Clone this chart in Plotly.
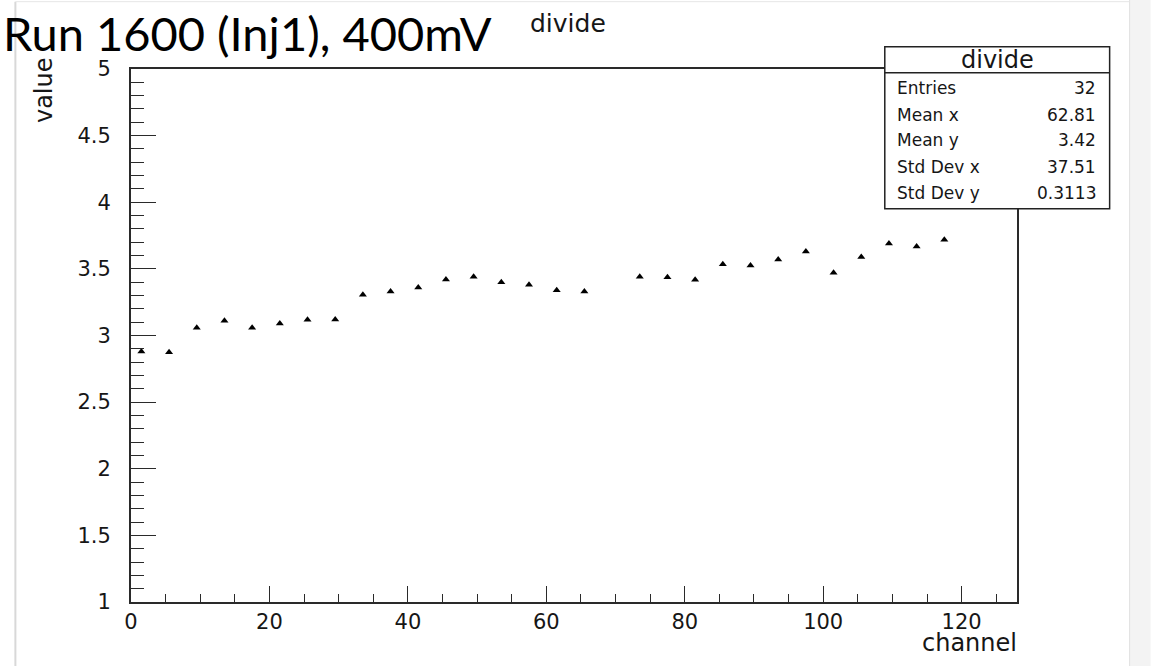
import plotly.graph_objects as go

# Data
channel = [1.5, 5.5, 9.5, 13.5, 17.5, 21.5, 25.5, 29.5, 33.5, 37.5, 41.5, 45.5, 49.5, 53.5,
           57.5, 61.5, 65.5, 73.5, 77.5, 81.5, 85.5, 89.5, 93.5, 97.5, 101.5, 105.5,
           109.5, 113.5, 117.5]
value = [2.88, 2.875, 3.058, 3.11, 3.058, 3.09, 3.118, 3.12, 3.305, 3.33, 3.36, 3.42, 3.44, 3.40,
         3.38, 3.34, 3.33, 3.44, 3.437, 3.418, 3.535, 3.525, 3.57, 3.63, 3.47, 3.59,
         3.69, 3.667, 3.718]

stats_labels = ["Entries", "Mean x", "Mean y", "Std Dev x", "Std Dev y"]
stats_values = ["32", "62.81", "3.42", "37.51", "0.3113"]

W, H = 1151, 666
L, R, T, B = 130.7, 1017.3, 69.3, 602.0
PW, PH = R - L, B - T


def px(x):
    return (x - L) / PW


def py(y):
    return (B - y) / PH


FONT = "DejaVu Sans, Liberation Sans, sans-serif"
TXT = "#161616"

fig = go.Figure()
fig.add_trace(go.Scatter(
    x=channel, y=value, mode="markers",
    marker=dict(symbol="triangle-up", size=7, color="black"),
    showlegend=False, cliponaxis=False,
))

axis_common = dict(
    showgrid=False, zeroline=False, showline=True, linecolor="#2a2a2a", linewidth=1.8,
    mirror=True, ticks="inside", tickcolor="#2a2a2a", tickwidth=1.2,
    tickfont=dict(family=FONT, size=21, color=TXT),
)

fig.update_layout(
    width=W, height=H,
    margin=dict(l=L, r=W - R, t=T, b=H - B, pad=0),
    paper_bgcolor="white", plot_bgcolor="white",
    xaxis=dict(range=[0, 128], tickmode="linear", tick0=0, dtick=20, ticklen=16,
               minor=dict(dtick=5, tick0=0, ticklen=8, ticks="inside", tickcolor="#2a2a2a"),
               **axis_common),
    yaxis=dict(range=[1, 5], tickmode="linear", tick0=1, dtick=0.5, ticklen=25,
               ticklabelstandoff=14,
               minor=dict(dtick=0.1, tick0=1, ticklen=13, ticks="inside", tickcolor="#2a2a2a"),
               **axis_common),
)

shapes = []
# page edges
shapes.append(dict(type="rect", xref="paper", yref="paper", x0=px(1130), x1=px(1151),
                   y0=py(0), y1=py(666), fillcolor="#f3f3f3", line=dict(width=0), layer="below"))
shapes.append(dict(type="line", xref="paper", yref="paper", x0=px(1130), x1=px(1130),
                   y0=py(0), y1=py(666), line=dict(color="#e0e0e0", width=1)))
shapes.append(dict(type="line", xref="paper", yref="paper", x0=px(15), x1=px(15),
                   y0=py(2), y1=py(666), line=dict(color="#d8d8d8", width=2)))
shapes.append(dict(type="line", xref="paper", yref="paper", x0=px(15), x1=px(1130),
                   y0=py(2), y1=py(2), line=dict(color="#e6e6e6", width=1)))

# stats box
bx0, bx1, by0, by1, hy = 885, 1110, 47, 209, 73
shapes.append(dict(type="rect", xref="paper", yref="paper", x0=px(bx0), x1=px(bx1),
                   y0=py(by1), y1=py(by0), fillcolor="white",
                   line=dict(color="#222222", width=1.5)))
shapes.append(dict(type="line", xref="paper", yref="paper", x0=px(bx0), x1=px(bx1),
                   y0=py(hy), y1=py(hy), line=dict(color="#222222", width=1.5)))

annotations = []
annotations.append(dict(text="divide", xref="paper", yref="paper", x=px((bx0 + bx1) / 2),
                        y=py(60), xanchor="center", yanchor="middle", showarrow=False,
                        font=dict(family=FONT, size=24, color=TXT)))
rows_y = [88, 115, 140, 167, 193]
for lab, val, ry in zip(stats_labels, stats_values, rows_y):
    annotations.append(dict(text=lab, xref="paper", yref="paper", x=px(895), y=py(ry),
                            xanchor="left", yanchor="middle", showarrow=False,
                            font=dict(family=FONT, size=17, color=TXT)))
    annotations.append(dict(text=val, xref="paper", yref="paper", x=px(1098), y=py(ry),
                            xanchor="right", yanchor="middle", showarrow=False,
                            font=dict(family=FONT, size=17, color=TXT)))

# titles
annotations.append(dict(text="Run 1600 (Inj1), 400mV", xref="paper", yref="paper",
                        x=px(1), y=py(33), xanchor="left", yanchor="middle", showarrow=False,
                        font=dict(family="Lato, Open Sans, sans-serif", size=47, color="black")))
annotations.append(dict(text="divide", xref="paper", yref="paper", x=px(568), y=py(24),
                        xanchor="center", yanchor="middle", showarrow=False,
                        font=dict(family=FONT, size=25, color=TXT)))
annotations.append(dict(text="value", xref="paper", yref="paper", x=px(43), y=py(90),
                        xanchor="center", yanchor="middle", textangle=-90, showarrow=False,
                        font=dict(family=FONT, size=24, color=TXT)))
annotations.append(dict(text="channel", xref="paper", yref="paper", x=px(1019), y=py(643),
                        xanchor="right", yanchor="middle", showarrow=False,
                        font=dict(family=FONT, size=24, color=TXT)))

fig.update_layout(shapes=shapes, annotations=annotations)
fig.write_html("out.html")
